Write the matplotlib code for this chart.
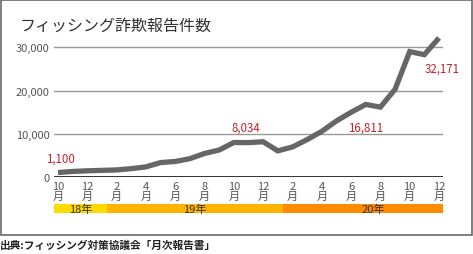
import matplotlib
matplotlib.use("Agg")
import matplotlib.pyplot as plt
from matplotlib.patches import Rectangle
from matplotlib.transforms import blended_transform_factory

plt.rcParams['font.family'] = ['Noto Sans CJK JP', 'DejaVu Sans']

# ---- data ----
months = [10, 11, 12,
          1, 2, 3, 4, 5, 6, 7, 8, 9, 10, 11, 12,
          1, 2, 3, 4, 5, 6, 7, 8, 9, 10, 11, 12]
reports = [1100, 1350, 1500,
           1600, 1700, 2000, 2400, 3400, 3650, 4300, 5500, 6300, 8034, 8000, 8208,
           6100, 7000, 8700, 10600, 13000, 15000, 16811, 16200, 20300, 29000, 28300, 32171]
labeled_idx = [0, 12, 21, 26]
years = ['18年', '19年', '20年']
year_start_idx = [0, 3, 15]
year_colors = ['#FFDA00', '#FFB400', '#FF8C00']
yticks = [0, 10000, 20000, 30000]

W, H = 473, 255
fig = plt.figure(figsize=(W / 100, H / 100), dpi=100)
fig.patch.set_facecolor('white')

# outer frame
fig.patches.append(Rectangle((0.5 / W, 1 - 236 / H), 471 / W, 235.5 / H,
                             transform=fig.transFigure, fill=False,
                             edgecolor='#6a6a6a', linewidth=1.2))

ax_left, ax_right = 54, 443
y0_px, ytop_px = 178.3, 31
ax = fig.add_axes([ax_left / W, 1 - y0_px / H, (ax_right - ax_left) / W, (y0_px - ytop_px) / H])
ax.set_facecolor('none')

x = list(range(len(reports)))
scale = (439 - 58) / (len(reports) - 1)
ax.set_xlim(-(58 - ax_left) / scale, (len(reports) - 1) + (ax_right - 439) / scale)
ax.set_ylim(0, 30000 * (y0_px - ytop_px) / (y0_px - 48.3))

for v in yticks[1:]:
    ax.axhline(v, color='#999999', linewidth=1.0, zorder=1)
ax.axhline(0, color='#333333', linewidth=1.4, zorder=2)

ax.plot(x, reports, color='#666666', linewidth=3.8, solid_joinstyle='miter',
        solid_capstyle='butt', zorder=3)

for s in ax.spines.values():
    s.set_visible(False)

ax.set_yticks(yticks)
ax.set_yticklabels([f'{v:,}' for v in yticks], fontsize=8, color='#555555')
ax.tick_params(axis='y', length=0, pad=3)

tick_idx = list(range(0, len(months), 2))
ax.set_xticks(tick_idx)
ax.set_xticklabels([f'{months[i]}\n月' for i in tick_idx], fontsize=8,
                   color='#555555', linespacing=0.9)
ax.tick_params(axis='x', length=0, pad=3)

# value labels
offsets = {0: (0.2, 3400), 12: (0.8, 3600), 21: (0.0, -5200), 26: (0.2, -7000)}
for i in labeled_idx:
    dx, dy = offsets[i]
    ax.text(i + dx, reports[i] + dy, f'{reports[i]:,}', color='#c8202a',
            fontsize=8.3, ha='center', va='center', zorder=4)

# year band
tr = blended_transform_factory(ax.transData, ax.transAxes)
xl, xr = ax.get_xlim()
axh = y0_px - ytop_px
band_top = (y0_px - 205) / axh
band_bot = (y0_px - 214) / axh
edges = [xl] + [s + 0.35 for s in year_start_idx[1:]] + [xr]
for k, (yr, col) in enumerate(zip(years, year_colors)):
    ax.add_patch(Rectangle((edges[k], band_bot), edges[k + 1] - edges[k], band_top - band_bot,
                           transform=tr, facecolor=col, edgecolor='none', clip_on=False))
label_pos = [(edges[0] + edges[1]) / 2, (edges[1] + edges[2]) / 2, 21.5]
for k, yr in enumerate(years):
    ax.text(label_pos[k], (band_top + band_bot) / 2, yr, transform=tr, fontsize=8,
            color='#333333', ha='center', va='center', clip_on=False)

fig.text(20 / W, 1 - 26 / H, 'フィッシング詐欺報告件数', fontsize=11.5, color='#333333',
         ha='left', va='center')
fig.text(0 / W, 1 - 246 / H, '出典:フィッシング対策協議会「月次報告書」', fontsize=7.7,
         color='#222222', ha='left', va='center', fontweight='bold')

fig.savefig('out.png', dpi=100, facecolor='white')
